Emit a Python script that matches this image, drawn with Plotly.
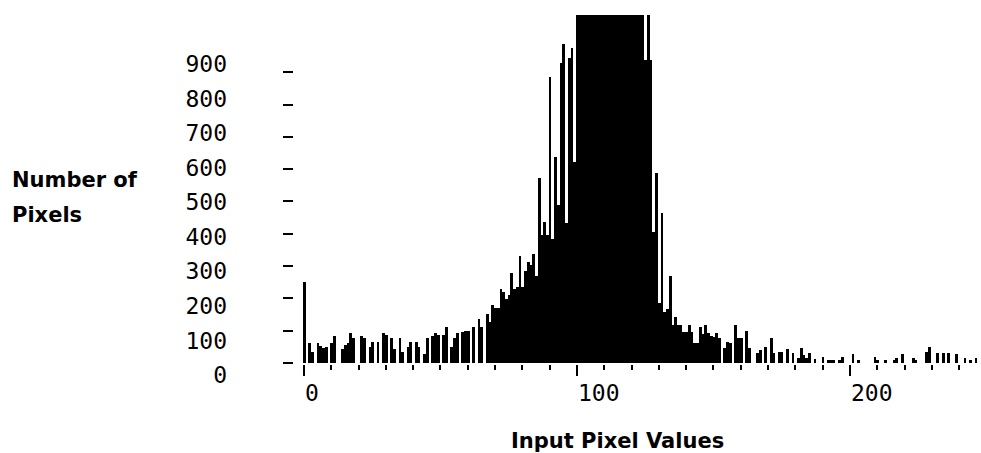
import plotly.graph_objects as go

# Histogram bins (input pixel value) and counts (number of pixels)
pixel_values = list(range(248))

counts_low = [250, 0, 61, 35, 0, 61, 53, 45, 50, 0,
              61, 84, 0, 0, 42, 55, 61, 94, 76, 0,
              0, 84, 76, 0, 50, 66, 0, 66, 0, 94,
              87, 0, 76, 42, 0, 76, 35, 0, 50, 66,
              0, 66, 50, 0, 27, 76, 0, 84, 94, 87,
              0, 87, 110, 0, 50, 76, 94, 0, 95, 100,
              100, 0, 110, 0, 135, 110, 0, 152, 128, 180,
              169, 169]
counts_rise = [229, 220, 198, 210, 279, 229, 235, 331, 235, 285,
               313, 303, 337, 269, 573, 396, 437, 396, 886, 383,
               638, 489, 928, 987, 433, 944, 975, 622]
counts_peak = [1180, 1350, 1500, 1650, 1800, 1950, 2100, 2200, 2300, 2400,
               2450, 2500, 2450, 2400, 2300, 2200, 2100, 1950, 1800, 1650,
               1500, 1350, 1250, 1150, 1100]
counts_fall = [938, 1150, 938, 406, 588, 186, 464, 158, 167, 269,
               118, 142, 118, 118, 97, 97, 118, 95, 61, 61,
               112, 90, 118, 94, 85, 80, 94, 76]
counts_tail = [0, 46, 66, 61, 0, 118, 76, 76, 0, 100,
               46, 0, 0, 31, 40, 0, 48, 0, 76, 31,
               0, 35, 35, 0, 42, 0, 30, 0, 15, 46,
               25, 15, 32, 0, 11, 0, 0, 18, 0, 9,
               9, 9, 0, 9, 18, 0, 0, 0, 27, 0,
               9, 0, 0, 0, 0, 0, 18, 9, 0, 0,
               9, 0, 0, 9, 15, 0, 27, 0, 0, 0,
               15, 9, 0, 0, 0, 35, 50, 0, 0, 30,
               0, 30, 0, 32, 0, 0, 27, 0, 0, 15,
               0, 9, 0, 15, 0]
counts = counts_low + counts_rise + counts_peak + counts_fall + counts_tail

y_ticks = [0, 100, 200, 300, 400, 500, 600, 700, 800, 900]
y_tick_labels = [str(v) for v in y_ticks]
x_ticks = [0, 100, 200]
x_tick_labels = ["0", "100", "200"]

W, H = 981, 453
ML, MT, MB = 293, 15, 68
plot_h = H - MT - MB
plot_w = W - ML

mono = "DejaVu Sans Mono"
sans = "DejaVu Sans"

fig = go.Figure()
fig.add_trace(go.Bar(x=pixel_values, y=counts, marker=dict(color="black", line=dict(width=0)),
                     hoverinfo="x+y", showlegend=False))
fig.add_trace(go.Scatter(x=[None], y=[None], yaxis="y2", showlegend=False, hoverinfo="skip"))

label_font = dict(family=sans, size=21, color="black", weight="bold")

fig.update_layout(
    width=W, height=H,
    margin=dict(l=ML, r=0, t=MT, b=MB, pad=0),
    paper_bgcolor="white", plot_bgcolor="white",
    bargap=0,
    xaxis=dict(
        domain=[9.6 / plot_w, 1], range=[-0.5, 248],
        anchor="free", position=(H - MB - 364) / plot_h,
        showgrid=False, zeroline=False, showline=False,
        tickmode="array", tickvals=x_ticks, ticktext=x_tick_labels,
        ticks="outside", ticklen=11, tickwidth=2, tickcolor="black",
        ticklabelposition="outside right", ticklabelstandoff=8,
        tickfont=dict(family=mono, size=23, color="black"),
        minor=dict(dtick=10, tick0=0, ticks="outside", ticklen=5, tickwidth=2,
                   tickcolor="black", showgrid=False),
    ),
    yaxis=dict(
        range=[-68.1, 1077], anchor="free", position=0,
        showgrid=False, zeroline=False, showline=False,
        tickmode="array", tickvals=y_ticks,
        ticks="outside", ticklen=10, tickwidth=2, tickcolor="black",
        showticklabels=False,
    ),
    yaxis2=dict(
        overlaying="y", side="left", anchor="free", position=0,
        range=[-28.9, 1041.7],
        showgrid=False, zeroline=False, showline=False,
        tickmode="array", tickvals=y_ticks, ticktext=y_tick_labels,
        ticks="", ticklabelstandoff=66,
        tickfont=dict(family=mono, size=23, color="black"),
    ),
    annotations=[
        dict(text="Number of", xref="paper", yref="paper",
             x=(10 - ML) / plot_w, y=(H - MB - 180) / plot_h,
             xanchor="left", yanchor="middle", align="left", showarrow=False,
             font=label_font),
        dict(text="Pixels", xref="paper", yref="paper",
             x=(10 - ML) / plot_w, y=(H - MB - 215) / plot_h,
             xanchor="left", yanchor="middle", align="left", showarrow=False,
             font=label_font),
        dict(text="Input Pixel Values", xref="paper", yref="paper",
             x=(617 - ML) / plot_w, y=(H - MB - 441) / plot_h,
             xanchor="center", yanchor="middle", showarrow=False,
             font=label_font),
    ],
)

fig.write_html("out.html")
